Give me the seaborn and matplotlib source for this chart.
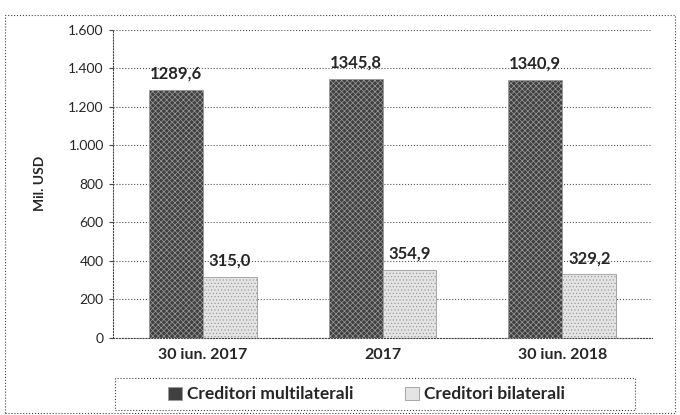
import pandas as pd
import matplotlib.pyplot as plt
import seaborn as sns
from matplotlib.patches import Rectangle

sns.set_style("white")
plt.rcParams['font.family'] = ['Lato', 'DejaVu Sans']
plt.rcParams['hatch.linewidth'] = 0.5
plt.rcParams['hatch.color'] = '#888888'

periods = ['30 iun. 2017', '2017', '30 iun. 2018']
multilateral = [1289.6, 1345.8, 1340.9]
bilateral = [315.0, 354.9, 329.2]
series = ['Creditori multilaterali', 'Creditori bilaterali']
yticks = [0, 200, 400, 600, 800, 1000, 1200, 1400, 1600]

df = pd.DataFrame({
    'period': periods * 2,
    'value': multilateral + bilateral,
    'series': [series[0]] * 3 + [series[1]] * 3,
})

fig = plt.figure(figsize=(6.8, 4.15), dpi=100)
ax = fig.add_axes([0.166, 0.186, 0.793, 0.742])

palette = {series[0]: '#404040', series[1]: '#e4e4e4'}
sns.barplot(data=df, x='period', y='value', hue='series', palette=palette,
            width=0.6, ax=ax, edgecolor='#9a9a9a', linewidth=0.6, legend=True)

for cont, hatch in zip(ax.containers, ['xxxxxx', '.....']):
    for bar in cont:
        bar.set_hatch(hatch)
    labels = [f"{v:.1f}".replace('.', ',') for v in cont.datavalues]
    ax.bar_label(cont, labels=labels, padding=6, fontsize=12, fontweight='bold')

ax.set_ylim(0, 1600)
ax.set_yticks(yticks)
ax.set_yticklabels([f"{t:,}".replace(',', '.') for t in yticks], fontsize=10)
ax.tick_params(axis='x', labelsize=11.5)
for lab in ax.get_xticklabels():
    lab.set_fontweight('bold')
ax.set_xlabel('')
ax.set_ylabel('Mil. USD', fontsize=10, fontweight='bold', labelpad=16)
ax.yaxis.grid(True, linestyle=':', color='#555555', linewidth=0.8)
ax.set_axisbelow(True)
for side in ['top', 'right']:
    ax.spines[side].set_visible(False)
for side in ['left', 'bottom']:
    ax.spines[side].set_linestyle(':')
    ax.spines[side].set_color('#444444')
ax.tick_params(axis='y', left=True, length=3, color='#444444')

handles, labels = ax.get_legend_handles_labels()
leg = fig.legend(handles, labels, loc='center', bbox_to_anchor=(0.539, 0.05),
                 ncol=2, frameon=False, fontsize=12.5,
                 handlelength=0.8, handleheight=0.8, columnspacing=3.0,
                 handletextpad=0.3)
ax.get_legend().remove()
for t in leg.get_texts():
    t.set_fontweight('bold')

fig.patches.append(Rectangle((0.169, 0.012), 0.765, 0.077, transform=fig.transFigure,
                             fill=False, linestyle=':', edgecolor='#444444', linewidth=0.8))
fig.patches.append(Rectangle((0.008, 0.006), 0.985, 0.959, transform=fig.transFigure,
                             fill=False, linestyle=':', edgecolor='#444444', linewidth=0.8))

fig.savefig('out.png', dpi=100)
